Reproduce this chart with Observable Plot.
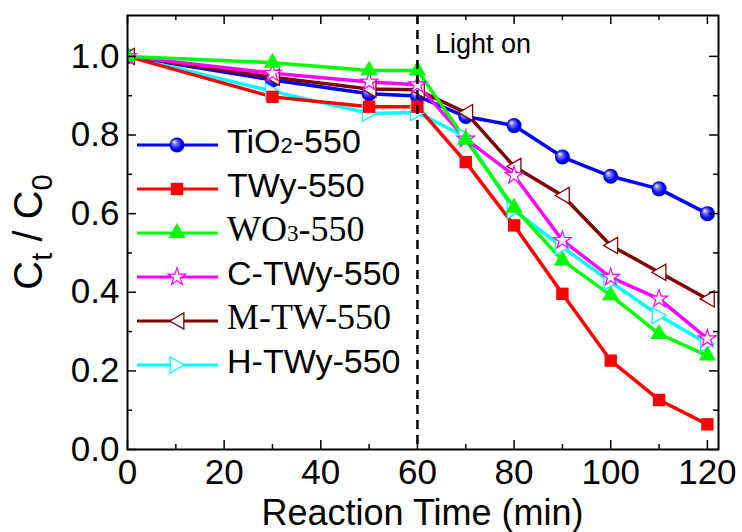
<!DOCTYPE html>
<html><head><meta charset="utf-8">
<script src="https://cdn.jsdelivr.net/npm/d3@7"></script>
<script src="https://cdn.jsdelivr.net/npm/@observablehq/plot@0.6"></script>
<style>
html,body{margin:0;padding:0;background:#fff}
#chart svg{display:block}
</style>
</head><body><div id="chart"></div>
<script>
// ---- data ----
const times = [0, 30, 50, 60, 70, 80, 90, 100, 110, 120];
const tio2  = [1.0, 0.940, 0.905, 0.899, 0.847, 0.824, 0.744, 0.695, 0.663, 0.600];
const twy   = [1.0, 0.897, 0.872, 0.872, 0.731, 0.570, 0.396, 0.226, 0.126, 0.064];
const wo3   = [1.0, 0.984, 0.964, 0.964, 0.788, 0.615, 0.481, 0.392, 0.294, 0.239];
const ctwy  = [1.0, 0.957, 0.935, 0.928, 0.790, 0.697, 0.532, 0.438, 0.383, 0.282];
const mtw   = [1.0, 0.947, 0.917, 0.915, 0.857, 0.720, 0.646, 0.519, 0.451, 0.383];
const htwy  = [1.0, 0.911, 0.855, 0.857, 0.795, 0.608, 0.515, 0.426, 0.341, 0.269];
const xMajor = [0, 20, 40, 60, 80, 100, 120];
const xMinor = [10, 30, 50, 70, 90, 110];
const yMajor = [0, 0.2, 0.4, 0.6, 0.8, 1.0];
const yMinor = [0.1, 0.3, 0.5, 0.7, 0.9];
const lightOnTime = 60;
const lightOnLabel = "Light on";
const xTitle = "Reaction Time (min)";
// legend labels: [text, subscript?] parts, font family
const legendLabels = [
  {parts: [["TiO", false], ["2", true], ["-550", false]], serif: false},
  {parts: [["TWy-550", false]], serif: false},
  {parts: [["WO", false], ["3", true], ["-550", false]], serif: true},
  {parts: [["C-TWy-550", false]], serif: false},
  {parts: [["M-TW-550", false]], serif: true},
  {parts: [["H-TWy-550", false]], serif: false}
];

// ---- custom symbols ----
const triLeft = {draw(ctx, size){const r=Math.sqrt(size/Math.PI);ctx.moveTo(-r,0);ctx.lineTo(r*0.95,-r*1.12);ctx.lineTo(r*0.95,r*1.12);ctx.closePath();}};
const triRight = {draw(ctx, size){const r=Math.sqrt(size/Math.PI);ctx.moveTo(r,0);ctx.lineTo(-r*0.95,-r*1.12);ctx.lineTo(-r*0.95,r*1.12);ctx.closePath();}};

const styles = {
  tio2: {color: "#0000ff", symbol: "circle",   fill: "url(#sphere)", stroke: "none",    r: 7.5, sw: 0},
  twy:  {color: "#ff0000", symbol: "square",   fill: "#ff0000",      stroke: "none",    r: 7.0, sw: 0},
  wo3:  {color: "#00ff00", symbol: "triangle", fill: "#00ff00",      stroke: "none",    r: 6.4, sw: 0},
  ctwy: {color: "#ff00ff", symbol: "star",     fill: "white",        stroke: "#ff00ff", r: 5.5, sw: 1.2},
  mtw:  {color: "#800000", symbol: triLeft,    fill: "white",        stroke: "#800000", r: 7.2, sw: 1.3},
  htwy: {color: "#00ffff", symbol: triRight,   fill: "white",        stroke: "#00ffff", r: 7.2, sw: 1.3}
};
const legendOrder = [["tio2", tio2], ["twy", twy], ["wo3", wo3], ["ctwy", ctwy], ["mtw", mtw], ["htwy", htwy]];
const drawOrder = [["tio2", tio2], ["htwy", htwy], ["twy", twy], ["mtw", mtw], ["ctwy", ctwy], ["wo3", wo3]];

const W = 742, H = 532, mL = 127, mR = 24, mT = 15, mB = 83;
const innerW = W - mL - mR, innerH = H - mT - mB;
const TL = 9, TLm = 5;

const marks = [];
for (const [k, vals] of drawOrder) {
  const s = styles[k];
  const data = times.map((t, i) => ({t, v: vals[i]}));
  marks.push(Plot.line(data, {x: "t", y: "v", stroke: s.color, strokeWidth: 3.5, clip: true}));
}
for (const [k, vals] of drawOrder) {
  const s = styles[k];
  const data = times.map((t, i) => ({t, v: vals[i]}));
  marks.push(Plot.dot(data, {x: "t", y: "v", symbol: s.symbol, r: s.r, fill: s.fill, stroke: s.stroke, strokeWidth: s.sw, clip: true}));
}
marks.push(
  Plot.ruleX([lightOnTime], {stroke: "black", strokeWidth: 2.5, strokeDasharray: "9,6"}),
  Plot.tickX(xMajor, {x: d => d, insetTop: innerH - TL, stroke: "black", strokeWidth: 1.5}),
  Plot.tickX(xMajor, {x: d => d, insetBottom: innerH - TL, stroke: "black", strokeWidth: 1.5}),
  Plot.tickX(xMinor, {x: d => d, insetTop: innerH - TLm, stroke: "black", strokeWidth: 1.5}),
  Plot.tickX(xMinor, {x: d => d, insetBottom: innerH - TLm, stroke: "black", strokeWidth: 1.5}),
  Plot.tickY(yMajor, {y: d => d, insetRight: innerW - TL, stroke: "black", strokeWidth: 1.5}),
  Plot.tickY(yMajor, {y: d => d, insetLeft: innerW - TL, stroke: "black", strokeWidth: 1.5}),
  Plot.tickY(yMinor, {y: d => d, insetRight: innerW - TLm, stroke: "black", strokeWidth: 1.5}),
  Plot.tickY(yMinor, {y: d => d, insetLeft: innerW - TLm, stroke: "black", strokeWidth: 1.5}),
  Plot.axisX({ticks: xMajor, tickSize: 0, tickPadding: 10, fontSize: 35, label: null}),
  Plot.axisY({ticks: yMajor, tickSize: 0, tickPadding: 8, fontSize: 35, tickFormat: d3.format(".1f"), label: null}),
  Plot.frame({stroke: "black", strokeWidth: 2})
);

const plot = Plot.plot({
  width: W, height: H,
  marginLeft: mL, marginRight: mR, marginTop: mT, marginBottom: mB,
  x: {domain: [0, 122.3]},
  y: {domain: [0, 1.104]},
  style: {fontFamily: "'Liberation Sans', Arial, sans-serif", fontSize: "35px", background: "white", color: "black", overflow: "visible"},
  marks
});
document.getElementById("chart").appendChild(plot);

const svg = d3.select(plot);
const xs = plot.scale("x"), ys = plot.scale("y");

// gradient for sphere markers
const defs = svg.insert("defs", ":first-child");
const g = defs.append("radialGradient").attr("id", "sphere")
  .attr("cx", "0.5").attr("cy", "0.5").attr("r", "0.55").attr("fx", "0.3").attr("fy", "0.28");
g.append("stop").attr("offset", "0").attr("stop-color", "#ffffff");
g.append("stop").attr("offset", "0.3").attr("stop-color", "#7070ff");
g.append("stop").attr("offset", "0.7").attr("stop-color", "#0000ff");
g.append("stop").attr("offset", "1").attr("stop-color", "#0000b0");

const sans = "'Liberation Sans', Arial, sans-serif";
const serif = "'Liberation Serif', 'Times New Roman', serif";

// "Light on" annotation
svg.append("text").attr("x", xs.apply(lightOnTime) + 18).attr("y", 53).attr("text-anchor", "start")
  .attr("font-family", sans).attr("font-size", 27).attr("fill", "black").text(lightOnLabel);

// x title
svg.append("text").attr("x", (mL + W - mR) / 2).attr("y", 525).attr("text-anchor", "middle")
  .attr("font-family", sans).attr("font-size", 36).attr("fill", "black").text(xTitle);

// y title C_t / C_0
const yt = svg.append("text").attr("transform", `translate(42,${mT + innerH * 0.5}) rotate(-90)`)
  .attr("text-anchor", "middle").attr("font-family", sans).attr("font-size", 40).attr("fill", "black");
yt.append("tspan").text("C");
yt.append("tspan").attr("font-size", 29).attr("dy", 10).text("t");
yt.append("tspan").attr("dy", -10).text(" / C");
yt.append("tspan").attr("font-size", 29).attr("dy", 10).text("0");

// legend
const lg = svg.append("g");
legendOrder.forEach(([k], i) => {
  const s = styles[k];
  const ly = 145 + i * 44;
  lg.append("line").attr("x1", 137).attr("x2", 218).attr("y1", ly).attr("y2", ly)
    .attr("stroke", s.color).attr("stroke-width", 3);
  const sym = typeof s.symbol === "string" ? d3["symbol" + s.symbol[0].toUpperCase() + s.symbol.slice(1)] : s.symbol;
  lg.append("path").attr("transform", `translate(177,${ly})`)
    .attr("d", d3.symbol(sym, s.r * s.r * Math.PI)())
    .attr("fill", s.fill).attr("stroke", s.stroke).attr("stroke-width", s.sw || null);
  const lab = legendLabels[i];
  const fs = lab.serif ? 36 : 34;
  const t = lg.append("text").attr("x", 227).attr("y", ly + 8).attr("text-anchor", "start")
    .attr("font-family", lab.serif ? serif : sans).attr("font-size", fs).attr("fill", "black");
  for (const [txt, sub] of lab.parts) {
    t.append("tspan").attr("font-size", sub ? Math.round(fs * 0.65) : null).text(txt);
  }
});
</script>
</body></html>
